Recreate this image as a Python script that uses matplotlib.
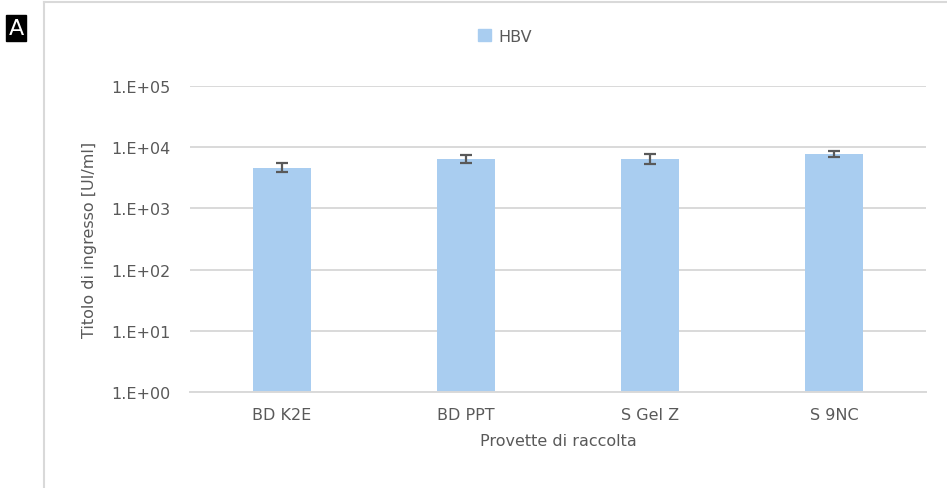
import numpy as np
import matplotlib.pyplot as plt
from matplotlib.lines import Line2D

categories = ["BD K2E", "BD PPT", "S Gel Z", "S 9NC"]
titers = [4650, 6450, 6450, 7800]
titer_err = [780, 900, 1150, 850]
yticks = [1e0, 1e1, 1e2, 1e3, 1e4, 1e5]
ytick_labels = ["1.E+00", "1.E+01", "1.E+02", "1.E+03", "1.E+04", "1.E+05"]

text_col = "#595959"
bar_col = "#a9cdf0"
grid_col = "#d9d9d9"

plt.rcParams["font.family"] = ["DejaVu Sans"]

W, H = 947, 489
fig = plt.figure(figsize=(W / 100, H / 100), dpi=100)
ax = fig.add_axes([190 / W, 1 - 393 / H, (926 - 190) / W, (393 - 87) / H])

x = np.arange(len(categories))
ax.bar(x, titers, width=0.315, color=bar_col, zorder=2)
ax.errorbar(x, titers, yerr=titer_err, fmt="none", ecolor="#595959",
            elinewidth=1.6, capsize=4.5, capthick=1.6, zorder=3)

ax.set_yscale("log")
ax.set_ylim(1, 1e5)
ax.set_xlim(-0.5, len(categories) - 0.5)
ax.set_yticks(yticks)
ax.set_yticklabels(ytick_labels)
ax.minorticks_off()
ax.set_xticks(x)
ax.set_xticklabels(categories)
ax.tick_params(axis="both", length=0, colors=text_col, labelsize=11.5)
ax.tick_params(axis="y", pad=14)
ax.tick_params(axis="x", pad=11)
ax.grid(axis="y", color=grid_col, lw=1.4, zorder=0)
for s in ["top", "right", "left"]:
    ax.spines[s].set_visible(False)
ax.spines["bottom"].set_color(grid_col)
ax.spines["bottom"].set_linewidth(1.4)

ax.set_ylabel("Titolo di ingresso [UI/ml]", color=text_col, fontsize=11.5, labelpad=10)
ax.set_xlabel("Provette di raccolta", color=text_col, fontsize=11.5, labelpad=8)

handle = plt.Rectangle((0, 0), 1, 1, color=bar_col)
fig.legend([handle], ["HBV"], loc="center", bbox_to_anchor=(505 / W, 1 - 37 / H),
           frameon=False, fontsize=11.5, labelcolor=text_col,
           handlelength=0.8, handleheight=0.8, handletextpad=0.5)

# chart frame
fig.add_artist(Line2D([44 / W, 1], [1 - 3 / H, 1 - 3 / H], color=grid_col, lw=1.5))
fig.add_artist(Line2D([44 / W, 44 / W], [0, 1 - 3 / H], color=grid_col, lw=1.5))

fig.text(16 / W, 1 - 29 / H, "A", color="white", fontsize=16, ha="center", va="center",
         bbox=dict(boxstyle="square,pad=0.12", fc="black", ec="black"))

fig.savefig("out.png", dpi=100)
